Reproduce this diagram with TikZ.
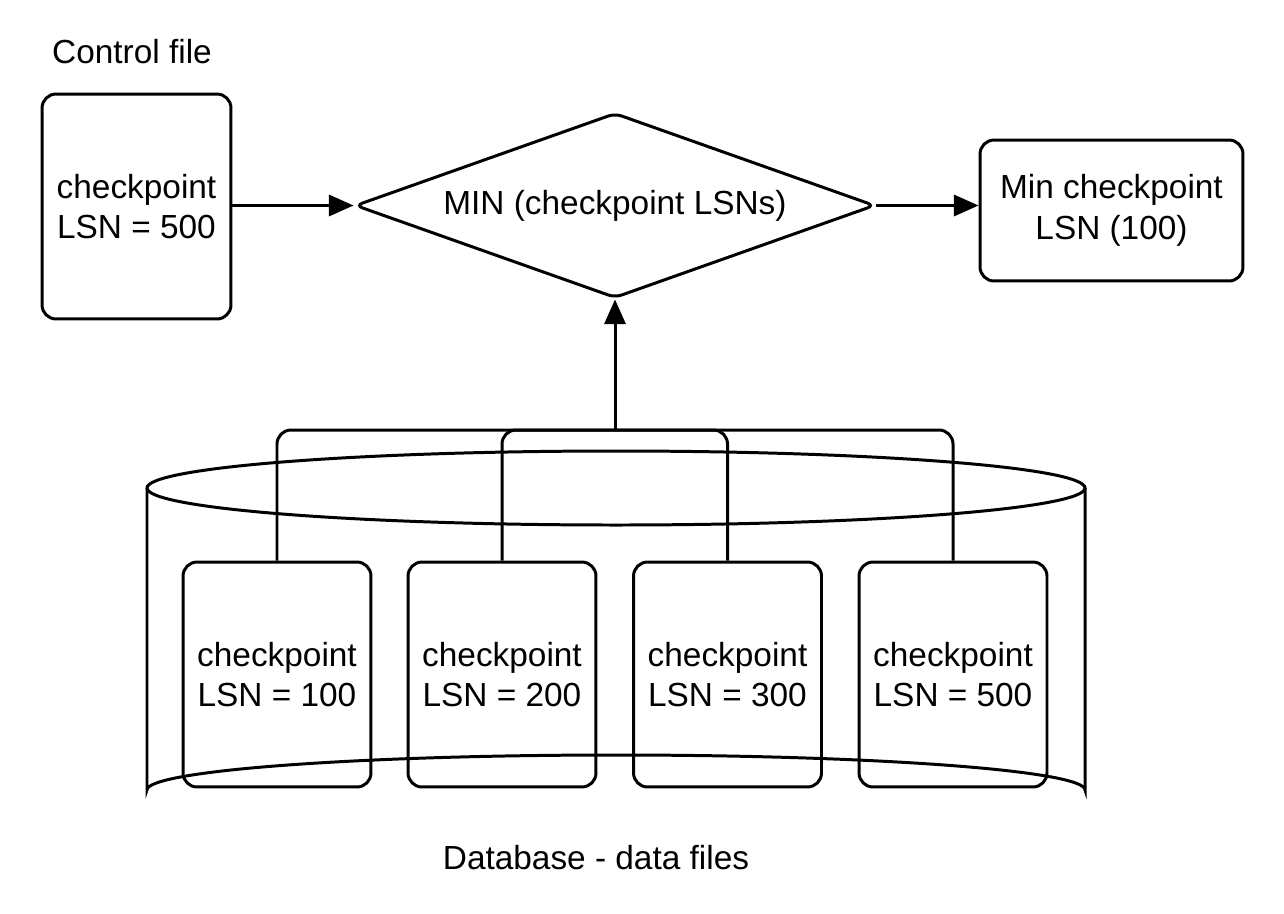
\documentclass[tikz,border=0pt]{standalone}
\usepackage{fontspec}
\setmainfont{Liberation Sans}
\usetikzlibrary{shapes.geometric,arrows.meta}

\tikzset{
  box/.style={draw, line width=1.7pt, rounded corners=8pt, align=center,
    inner sep=0pt},
  link/.style={line width=1.7pt, -{Triangle[length=14pt,width=12pt]}},
  every node/.style={font=\fontsize{19}{23}\selectfont}
}

\begin{document}
\begin{tikzpicture}[x=0.02cm, y=-0.02cm]
      \useasboundingbox (0,0) rectangle (1284,913);
      % control file
      \node (ctrllabel) at (132,52) {Control file};
      \node[box, minimum width=3.78cm, minimum height=4.5cm] (ctrl) at (136.5,206.5) {checkpoint\\LSN = 500};
      % min function
      \node[draw, line width=1.7pt, diamond, aspect=2.81, inner sep=0pt,
        minimum width=10.4cm, minimum height=3.7cm, rounded corners=4pt] (min) at (615,205.5) {MIN (checkpoint LSNs)};
      \node[box, minimum width=5.26cm, minimum height=2.82cm] (result) at (1111.5,210.5) {Min checkpoint\\LSN (100)};
      \draw[link] (ctrl.east |- min.west) -- (min.west);
      \draw[link] (min.east) -- (result.west |- min.east);
      % database cylinder
      \draw[line width=1.7pt] (147,488) -- (147,790) arc[start angle=180, end angle=360, x radius=469, y radius=35] -- (1085,488);
      \draw[line width=1.7pt] (616,488) ellipse[x radius=469, y radius=37];
      \node (dblabel) at (596,858) {Database - data files};
      % data files
      \node[box, minimum width=3.76cm, minimum height=4.5cm] (f1) at (277,674.5) {checkpoint\\LSN = 100};
      \node[box, minimum width=3.76cm, minimum height=4.5cm] (f2) at (502,674.5) {checkpoint\\LSN = 200};
      \node[box, minimum width=3.76cm, minimum height=4.5cm] (f3) at (727.5,674.5) {checkpoint\\LSN = 300};
      \node[box, minimum width=3.76cm, minimum height=4.5cm] (f4) at (953,674.5) {checkpoint\\LSN = 500};
      \coordinate (join) at (615,430);
      \foreach \f in {f1,f2,f3,f4}
        \draw[line width=1.7pt, rounded corners=8pt] (\f.north) |- (join);
      \draw[link] (join) -- (min.south);
\end{tikzpicture}
\end{document}
